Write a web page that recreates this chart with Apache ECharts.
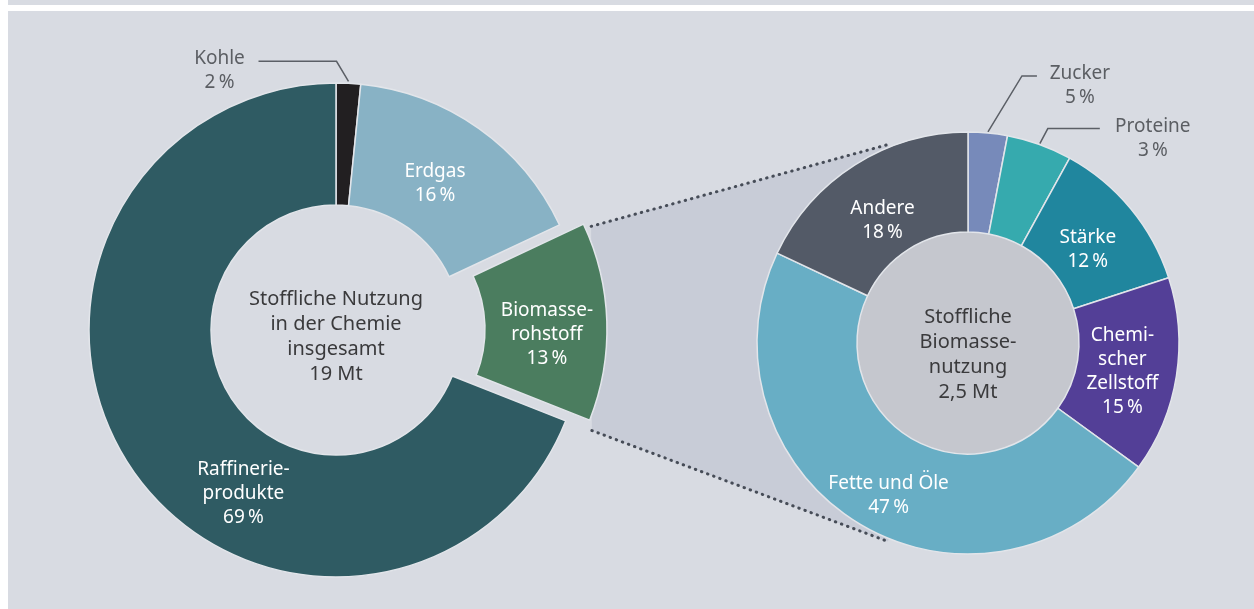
<!DOCTYPE html>
<html>
<head>
<meta charset="utf-8">
<title>Stoffliche Nutzung</title>
<script src="https://cdn.jsdelivr.net/npm/echarts@6/dist/echarts.min.js"></script>
<style>
    html, body { margin: 0; padding: 0; background: #d8dbe2; }
    #chart { width: 1254px; height: 609px; }
</style>
</head>
<body>
<div id="chart"></div>
<script>
// left ring: stoffliche Nutzung in der Chemie (19 Mt)
// useValues = slice size as drawn, usePercent = the printed label
var useNames = ['Kohle', 'Erdgas', 'Biomasse-\nrohstoff', 'Raffinerie-\nprodukte'];
var useValues = [1.6, 16.4, 13, 69];
var usePercent = [2, 16, 13, 69];
var useColors = ['#221f21', '#88b2c5', '#4b7d5f', '#2f5b63'];

// right ring: stoffliche Biomassenutzung (2,5 Mt)
var bioNames = ['Zucker', 'Proteine', 'Stärke', 'Chemi-\nscher\nZellstoff', 'Fette und Öle', 'Andere'];
var bioValues = [3, 5, 12, 15, 47, 18];
var bioPercent = [5, 3, 12, 15, 47, 18];
var bioColors = ['#778aba', '#36aaae', '#20869e', '#533f97', '#68aec5', '#535a67'];

var leftText = 'Stoffliche Nutzung\nin der Chemie\ninsgesamt\n19 Mt';
var rightText = 'Stoffliche\nBiomasse-\nnutzung\n2,5 Mt';

var FONT = 'Noto Sans';
var L = { c: [336, 330], r: [125, 247], explode: 24 };
var R = { c: [968, 343], r: [111, 211] };

// where the inside labels sit: [angle from top, distance from centre]
var leftLabelPos = { 1: [34, 177], 2: [91.6, 187], 3: [209.5, 188] };
var rightLabelPos = { 2: [52, 152], 3: [100.5, 157], 4: [207.5, 172], 5: [325, 149] };

function polar(c, r, deg) {
    var a = deg * Math.PI / 180;
    return [c[0] + r * Math.sin(a), c[1] - r * Math.cos(a)];
}
function sum(arr, n) {
    var s = 0;
    for (var i = 0; i < n; i++) s += arr[i];
    return s;
}
function angleAt(arr, k) {   // clockwise from top, degrees
    return sum(arr, k) / sum(arr, arr.length) * 360;
}
function midAngle(arr, k) {
    return (angleAt(arr, k) + angleAt(arr, k + 1)) / 2;
}
function pct(v) {
    return v + '\u2009%';
}

// geometry of the pulled-out Biomasse slice -> connector to right ring
var bioIdx = 2;
var a0 = angleAt(useValues, bioIdx);
var a1 = angleAt(useValues, bioIdx + 1);
var ec = polar(L.c, L.explode, midAngle(useValues, bioIdx));
var lt = polar(ec, L.r[1] + 6, a0 + 1.2);
var lb = polar(ec, L.r[1] + 6, a1 + 2);
var rt = polar(R.c, R.r[1] + 3, 338);
var rb = polar(R.c, R.r[1] + 3, 202);

var dotStyle = { stroke: '#464c57', lineWidth: 3, lineDash: [0.5, 6], lineCap: 'round' };
var sliceBorder = { borderColor: '#e2e5ea', borderWidth: 1.5 };
var hidden = { color: 'rgba(0,0,0,0)', borderWidth: 0 };

function insideLayout(c, pos) {
    var q = polar(c, pos[1], pos[0]);
    return { x: q[0], y: q[1], align: 'center', verticalAlign: 'middle' };
}
function centerLayout(c, dy) {
    return function () {
        return { x: c[0], y: c[1] + dy, align: 'center', verticalAlign: 'middle' };
    };
}
function sliceLabel(fmt) {
    return {
        position: 'inside',
        fontFamily: FONT,
        fontSize: 19,
        lineHeight: 24,
        color: '#ffffff',
        formatter: fmt
    };
}

const myChart = echarts.init(document.getElementById('chart'));

const option = {
    backgroundColor: '#d8dbe2',
    animation: false,
    graphic: [
        { type: 'rect', z: 0, shape: { x: 0, y: 0, width: 8, height: 609 }, style: { fill: '#ffffff' } },
        { type: 'rect', z: 0, shape: { x: 8, y: 5, width: 1246, height: 6 }, style: { fill: '#ffffff' } },
        { type: 'polygon', z: 0, shape: { points: [lt, rt, R.c, rb, lb] }, style: { fill: '#c8ccd7' } },
        { type: 'line', z: 0, shape: { x1: lt[0], y1: lt[1], x2: rt[0], y2: rt[1] }, style: dotStyle },
        { type: 'line', z: 0, shape: { x1: lb[0], y1: lb[1], x2: rb[0], y2: rb[1] }, style: dotStyle }
    ],
    series: [
        {
            // left center text
            type: 'pie',
            z: 3,
            silent: true,
            center: L.c,
            radius: [0, L.r[0]],
            itemStyle: { color: 'rgba(0,0,0,0)' },
            label: {
                position: 'center',
                fontFamily: FONT,
                fontSize: 20,
                lineHeight: 25,
                color: '#3a3a3c',
                formatter: leftText
            },
            labelLine: { show: false },
            labelLayout: centerLayout(L.c, 7),
            data: [{ value: 1, name: 'gesamt' }]
        },
        {
            // left ring without the Biomasse slice
            type: 'pie',
            z: 4,
            silent: true,
            center: L.c,
            radius: L.r,
            startAngle: 90,
            clockwise: true,
            avoidLabelOverlap: false,
            itemStyle: sliceBorder,
            label: sliceLabel(function (p) {
                return p.name + '\n' + pct(usePercent[p.dataIndex]);
            }),
            labelLine: { show: false },
            labelLayout: function (p) {
                if (p.dataIndex === 0) {
                    var p0 = polar(L.c, L.r[1] + 2, midAngle(useValues, 0));
                    var bend = [p0[0] - 12, p0[1] - 20];
                    var end = [bend[0] - 78, bend[1]];
                    return {
                        x: end[0] - 39, y: end[1] + 9,
                        align: 'center', verticalAlign: 'middle',
                        labelLinePoints: [p0, bend, end]
                    };
                }
                if (p.dataIndex !== bioIdx) {
                    return insideLayout(L.c, leftLabelPos[p.dataIndex]);
                }
            },
            data: useValues.map(function (v, i) {
                var item = {
                    value: v,
                    name: useNames[i],
                    itemStyle: { color: useColors[i] }
                };
                if (i === bioIdx) {
                    item.itemStyle = hidden;
                    item.label = { show: false };
                }
                if (i === 0) {
                    item.label = { position: 'outside', color: '#5b5e63' };
                    item.labelLine = { show: true, lineStyle: { color: '#5b5f66', width: 1.5 } };
                }
                return item;
            })
        },
        {
            // Biomasse slice, pulled out towards the right ring
            type: 'pie',
            z: 4,
            silent: true,
            center: ec,
            radius: L.r,
            startAngle: 90,
            clockwise: true,
            avoidLabelOverlap: false,
            label: sliceLabel(function (p) {
                return p.name + '\n' + pct(usePercent[p.dataIndex]);
            }),
            labelLine: { show: false },
            labelLayout: function (p) {
                if (p.dataIndex === bioIdx) {
                    return insideLayout(ec, leftLabelPos[bioIdx]);
                }
            },
            data: useValues.map(function (v, i) {
                if (i === bioIdx) {
                    return { value: v, name: useNames[i], itemStyle: Object.assign({ color: useColors[i] }, sliceBorder) };
                }
                return { value: v, name: useNames[i], itemStyle: hidden, label: { show: false } };
            })
        },
        {
            // right center disc
            type: 'pie',
            z: 3,
            silent: true,
            center: R.c,
            radius: [0, R.r[0]],
            itemStyle: { color: '#c5c7ce' },
            label: {
                position: 'center',
                fontFamily: FONT,
                fontSize: 20,
                lineHeight: 25,
                color: '#3a3a3c',
                formatter: rightText
            },
            labelLine: { show: false },
            labelLayout: centerLayout(R.c, 12),
            data: [{ value: 1, name: 'Biomasse' }]
        },
        {
            type: 'pie',
            z: 4,
            silent: true,
            center: R.c,
            radius: R.r,
            startAngle: 90,
            clockwise: true,
            avoidLabelOverlap: false,
            itemStyle: sliceBorder,
            label: sliceLabel(function (p) {
                return p.name + '\n' + pct(bioPercent[p.dataIndex]);
            }),
            labelLine: { show: false },
            labelLayout: function (p) {
                var p0, bend, end;
                if (p.dataIndex === 0) {
                    p0 = polar(R.c, R.r[1] + 1, midAngle(bioValues, 0));
                    bend = [p0[0] + 34, p0[1] - 56];
                    end = [bend[0] + 15, bend[1]];
                    return {
                        x: end[0] + 43, y: end[1] + 10,
                        align: 'center', verticalAlign: 'middle',
                        labelLinePoints: [p0, bend, end]
                    };
                }
                if (p.dataIndex === 1) {
                    p0 = polar(R.c, R.r[1] + 1, midAngle(bioValues, 1));
                    bend = [p0[0] + 8, p0[1] - 15];
                    end = [bend[0] + 52, bend[1]];
                    return {
                        x: end[0] + 53, y: end[1] + 10,
                        align: 'center', verticalAlign: 'middle',
                        labelLinePoints: [p0, bend, end]
                    };
                }
                return insideLayout(R.c, rightLabelPos[p.dataIndex]);
            },
            data: bioValues.map(function (v, i) {
                var item = {
                    value: v,
                    name: bioNames[i],
                    itemStyle: { color: bioColors[i] }
                };
                if (i < 2) {
                    item.label = { position: 'outside', color: '#5b5e63' };
                    item.labelLine = { show: true, lineStyle: { color: '#5b5f66', width: 1.5 } };
                }
                return item;
            })
        }
    ]
};
myChart.setOption(option);
</script>
</body>
</html>
